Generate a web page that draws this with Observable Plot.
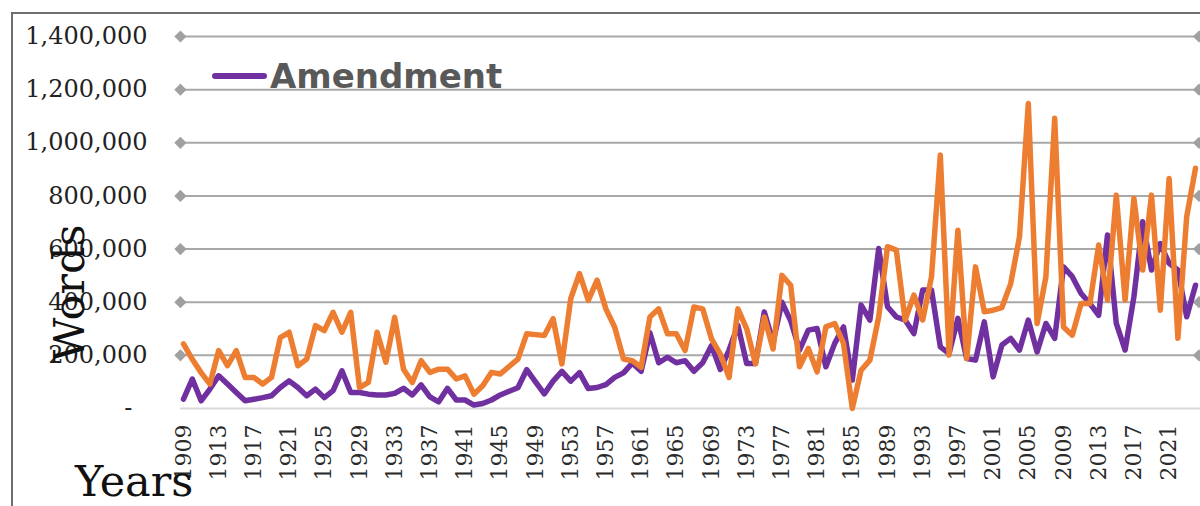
<!DOCTYPE html>
<html>
<head>
<meta charset="utf-8">
<script src="https://cdn.jsdelivr.net/npm/d3@7"></script>
<script src="https://cdn.jsdelivr.net/npm/@observablehq/plot@0.6"></script>
<style>
  html, body { margin: 0; padding: 0; background: #fff; }
  #wrap { position: relative; width: 1200px; height: 506px; overflow: hidden; }
  #frame { position: absolute; left: 11px; top: 12px; width: 1400px; height: 700px;
           border-top: 2px solid #6e6e6e; border-left: 2px solid #6e6e6e; box-sizing: border-box; }
  #chart { position: absolute; left: 0; top: 0; }
  .legend { position: absolute; left: 212px; top: 59px; display: flex; align-items: center; }
  .legend .swatch { width: 55px; height: 6px; border-radius: 3px; background: #7030a0; }
  .legend .name { font-family: "DejaVu Sans", sans-serif; font-weight: bold; font-size: 34px;
                  line-height: 1; color: #595959; margin-left: 3px; }
  .ytitle { position: absolute; left: 69px; top: 293px; transform: translate(-50%, -50%) rotate(-90deg);
            font-family: "DejaVu Serif", serif; font-size: 43px; line-height: 1; color: #111; white-space: nowrap; }
  .xtitle { position: absolute; left: 75px; top: 458px; font-family: "DejaVu Serif", serif;
            font-size: 43px; line-height: 1.1; color: #111; white-space: nowrap; }
</style>
</head>
<body>
<div id="wrap">
  <div id="frame"></div>
  <div id="chart"></div>
  <div class="legend"><div class="swatch"></div><div class="name">Amendment</div></div>
  <div class="ytitle">Words</div>
  <div class="xtitle">Years</div>
</div>
<script>
// Years covered by both series
const years = d3.range(1909, 2025);

// Words per year, amendment series (purple)
const amendmentWords = [
  35000,
  111000, 29000, 73000, 123000, 92000, 60000, 29000, 35000, 41000, 48000,
  79000, 104000, 79000, 48000, 73000, 41000, 67000, 142000, 60000, 60000,
  54000, 51000, 51000, 57000, 76000, 51000, 89000, 44000, 25000, 76000,
  32000, 32000, 13000, 19000, 32000, 51000, 65000, 78000, 146000, 100000,
  55000, 103000, 140000, 103000, 135000, 75000, 79000, 90000, 117000, 134000,
  171000, 140000, 285000, 172000, 193000, 172000, 180000, 140000, 172000, 237000,
  147000, 220000, 313000, 169000, 169000, 363000, 250000, 400000, 330000, 220000,
  295000, 301000, 157000, 245000, 307000, 107000, 389000, 333000, 602000, 383000,
  345000, 333000, 282000, 446000, 446000, 232000, 207000, 339000, 188000, 182000,
  326000, 119000, 239000, 264000, 220000, 333000, 213000, 320000, 264000, 533000,
  496000, 433000, 395000, 351000, 653000, 320000, 220000, 420000, 703000, 521000,
  621000, 546000, 521000, 345000, 464000
];

// Words per year, second series (orange)
const otherWords = [
  243000,
  185000, 135000, 92000, 218000, 161000, 218000, 117000, 117000, 92000, 117000,
  267000, 287000, 161000, 186000, 312000, 293000, 362000, 287000, 362000, 79000,
  98000, 287000, 174000, 343000, 148000, 98000, 180000, 136000, 148000, 148000,
  111000, 123000, 54000, 86000, 136000, 130000, 158000, 186000, 281000, 278000,
  275000, 338000, 168000, 413000, 508000, 407000, 483000, 375000, 306000, 186000,
  180000, 155000, 344000, 375000, 281000, 281000, 218000, 382000, 375000, 262000,
  205000, 117000, 375000, 300000, 168000, 344000, 224000, 501000, 464000, 157000,
  226000, 138000, 307000, 320000, 245000, 0, 144000, 182000, 345000, 609000,
  596000, 333000, 427000, 333000, 496000, 954000, 201000, 671000, 188000, 533000,
  364000, 370000, 380000, 470000, 646000, 1148000, 320000, 496000, 1092000, 307000,
  276000, 395000, 395000, 615000, 408000, 803000, 408000, 791000, 521000, 803000,
  370000, 866000, 264000, 722000, 904000
];

// Axis ticks
const yTicks = [0, 200000, 400000, 600000, 800000, 1000000, 1200000, 1400000];
const xTickYears = [1909, 1913, 1917, 1921, 1925, 1929, 1933, 1937, 1941, 1945, 1949, 1953,
  1957, 1961, 1965, 1969, 1973, 1977, 1981, 1985, 1989, 1993, 1997, 2001, 2005, 2009,
  2013, 2017, 2021];

const seriesColors = { Amendment: "#7030a0", Other: "#ed7d31" };

const rows = years.flatMap((year, i) => [
  { year, words: amendmentWords[i], series: "Amendment" },
  { year, words: otherWords[i], series: "Other" }
]);

// gridlines run a little past the first and last year
const gridStart = years[0] - 0.35;
const gridEnd = years[years.length - 1] + 0.4;
const gridTicks = yTicks.filter(d => d > 0);

const chart = Plot.plot({
  width: 1200,
  height: 506,
  marginLeft: 183,
  marginRight: 5,
  marginTop: 36,
  marginBottom: 98,
  style: { background: "transparent", overflow: "visible" },
  x: { domain: [years[0], years[years.length - 1]] },
  y: { domain: [0, 1400000] },
  marks: [
    Plot.ruleY([0], { x1: gridStart, x2: gridEnd + 0.2, stroke: "#d9d9d9", strokeWidth: 2 }),
    Plot.ruleY(gridTicks, { x1: gridStart, x2: gridEnd, stroke: "#a8a8a8", strokeWidth: 2 }),
    Plot.dot(gridTicks, { x: gridStart, y: d => d, symbol: "diamond2", r: 5.5, fill: "#a0a0a0", stroke: "none" }),
    Plot.dot(gridTicks, { x: gridEnd, y: d => d, symbol: "diamond2", r: 5.5, fill: "#a0a0a0", stroke: "none" }),
    Plot.axisY(yTicks, {
      tickSize: 0, tickPadding: 36, label: null,
      tickFormat: d => d === 0 ? "-\u00a0\u00a0" : d3.format(",")(d),
      fontFamily: "DejaVu Serif", fontSize: 24, color: "#222"
    }),
    Plot.axisX(xTickYears, {
      tickSize: 0, tickPadding: 16, tickRotate: -90, label: null,
      tickFormat: d => String(d),
      fontFamily: "DejaVu Serif", fontSize: 22, color: "#2a2a2a"
    }),
    Plot.lineY(rows.filter(d => d.series === "Amendment"), {
      x: "year", y: "words", stroke: seriesColors.Amendment, strokeWidth: 5.5,
      strokeLinejoin: "round", strokeLinecap: "round"
    }),
    Plot.lineY(rows.filter(d => d.series === "Other"), {
      x: "year", y: "words", stroke: seriesColors.Other, strokeWidth: 5.5,
      strokeLinejoin: "round", strokeLinecap: "round"
    })
  ]
});

document.getElementById("chart").appendChild(chart);
</script>
</body>
</html>
